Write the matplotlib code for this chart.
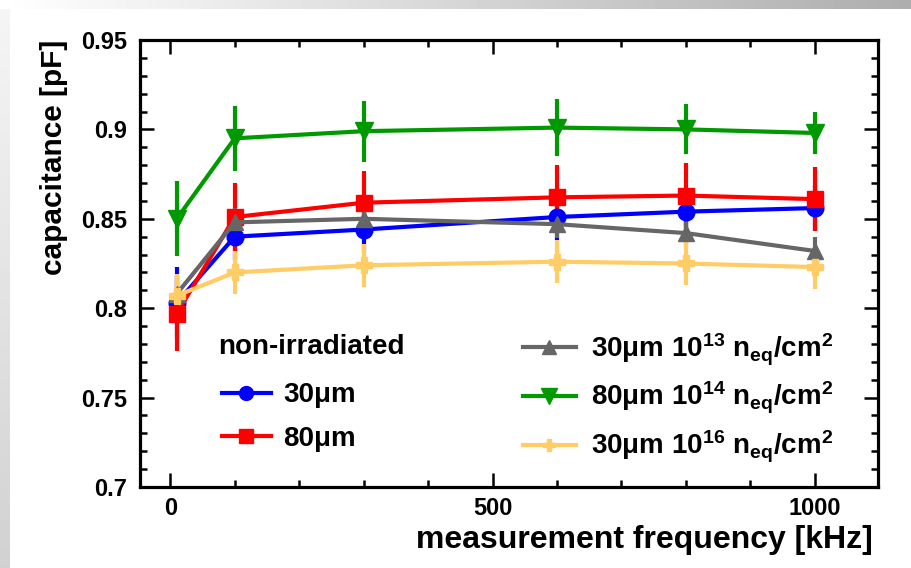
import numpy as np
import matplotlib
matplotlib.use("Agg")
import matplotlib.pyplot as plt
from matplotlib.lines import Line2D
from matplotlib.ticker import MultipleLocator

# data
freq = [10, 100, 300, 600, 800, 1000]

cap_30 = [0.803, 0.840, 0.844, 0.851, 0.854, 0.856]
err_30 = [0.020, 0.013, 0.013, 0.013, 0.013, 0.013]

cap_80 = [0.797, 0.851, 0.859, 0.862, 0.863, 0.861]
err_80 = [0.021, 0.019, 0.018, 0.018, 0.018, 0.018]

cap_30_e13 = [0.808, 0.848, 0.850, 0.847, 0.842, 0.832]
err_30_e13 = [0.008, 0.008, 0.008, 0.008, 0.008, 0.008]

cap_80_e14 = [0.850, 0.895, 0.899, 0.901, 0.900, 0.898]
err_80_e14 = [0.021, 0.018, 0.017, 0.016, 0.014, 0.012]

cap_30_e16 = [0.807, 0.820, 0.824, 0.826, 0.825, 0.823]
err_30_e16 = [0.012, 0.012, 0.012, 0.012, 0.012, 0.012]

labels = ["30\u03bcm", "80\u03bcm",
          "30\u03bcm 10$^{13}$ n$_{eq}$/cm$^{2}$",
          "80\u03bcm 10$^{14}$ n$_{eq}$/cm$^{2}$",
          "30\u03bcm 10$^{16}$ n$_{eq}$/cm$^{2}$"]

plt.rcParams['font.family'] = ['Liberation Sans', 'DejaVu Sans']
plt.rcParams['font.weight'] = 'bold'
plt.rcParams['mathtext.default'] = 'regular'

fig = plt.figure(figsize=(9.12, 5.68), dpi=100)

# slide-like background strips
bg = fig.add_axes([0, 0, 1, 1], zorder=-5)
bg.set_axis_off()
bg.set_xlim(0, 912)
bg.set_ylim(568, 0)
grad = np.linspace(1.0, 0.68, 256).reshape(1, -1)
bg.imshow(grad, cmap='gray', vmin=0, vmax=1, extent=[0, 912, 9, 0], aspect='auto')
vgrad = np.linspace(0.96, 0.82, 256).reshape(-1, 1)
bg.imshow(vgrad, cmap='gray', vmin=0, vmax=1, extent=[0, 10, 568, 9], aspect='auto')

ax = fig.add_axes([0.1535, 0.1426, 0.8092, 0.787])

series = [
    (cap_30, err_30, '#0000ff', 'o', 12),
    (cap_80, err_80, '#ff0000', 's', 12),
    (cap_30_e13, err_30_e13, '#666666', '^', 12),
    (cap_80_e14, err_80_e14, '#009900', 'v', 13),
    (cap_30_e16, err_30_e16, '#ffcc66', 'P', 11),
]

handles = []
for (y, e, c, m, ms), lab in zip(series, labels):
    ax.errorbar(freq, y, yerr=e, color=c, marker=m, markersize=ms, lw=3,
                elinewidth=3, capsize=0)
    handles.append(Line2D([], [], color=c, marker=m, markersize=ms - 2, lw=3, label=lab))

ax.set_xlim(-47, 1098)
ax.set_ylim(0.7, 0.95)
ax.xaxis.set_major_locator(MultipleLocator(500))
ax.xaxis.set_minor_locator(MultipleLocator(100))
ax.yaxis.set_minor_locator(MultipleLocator(0.01))
ax.set_yticks([0.7, 0.75, 0.8, 0.85, 0.9, 0.95])
ax.set_yticklabels(['0.7', '0.75', '0.8', '0.85', '0.9', '0.95'])
ax.tick_params(which='both', direction='in', top=True, right=True, width=1.8,
               labelsize=17)
ax.tick_params(axis='y', pad=9)
ax.tick_params(axis='x', pad=7)
ax.tick_params(which='major', length=10)
ax.tick_params(which='minor', length=5)
for s in ax.spines.values():
    s.set_linewidth(2.3)

ax.set_xlabel('measurement frequency [kHz]', fontsize=23, fontweight='bold', loc='right')
ax.xaxis.set_label_coords(0.993, -0.086)
ax.set_ylabel('capacitance [pF]', fontsize=21.5, fontweight='bold', loc='top')
ax.yaxis.set_label_coords(-0.097, 1.0)

ax.text(0.1057, 0.313, 'non-irradiated', transform=ax.transAxes, fontsize=20,
        fontweight='bold', va='center', ha='left')

leg1 = ax.legend(handles=handles[:2], loc='upper left', bbox_to_anchor=(0.111, 0.234),
                 frameon=False, fontsize=20, handlelength=1.75, labelspacing=0.62,
                 borderaxespad=0, borderpad=0, handletextpad=0.45)
ax.add_artist(leg1)
ax.legend(handles=handles[2:], loc='upper left', bbox_to_anchor=(0.519, 0.348),
          frameon=False, fontsize=20, handlelength=1.9, labelspacing=0.45,
          borderaxespad=0, borderpad=0, handletextpad=0.55)

fig.savefig('out.png', dpi=100)
